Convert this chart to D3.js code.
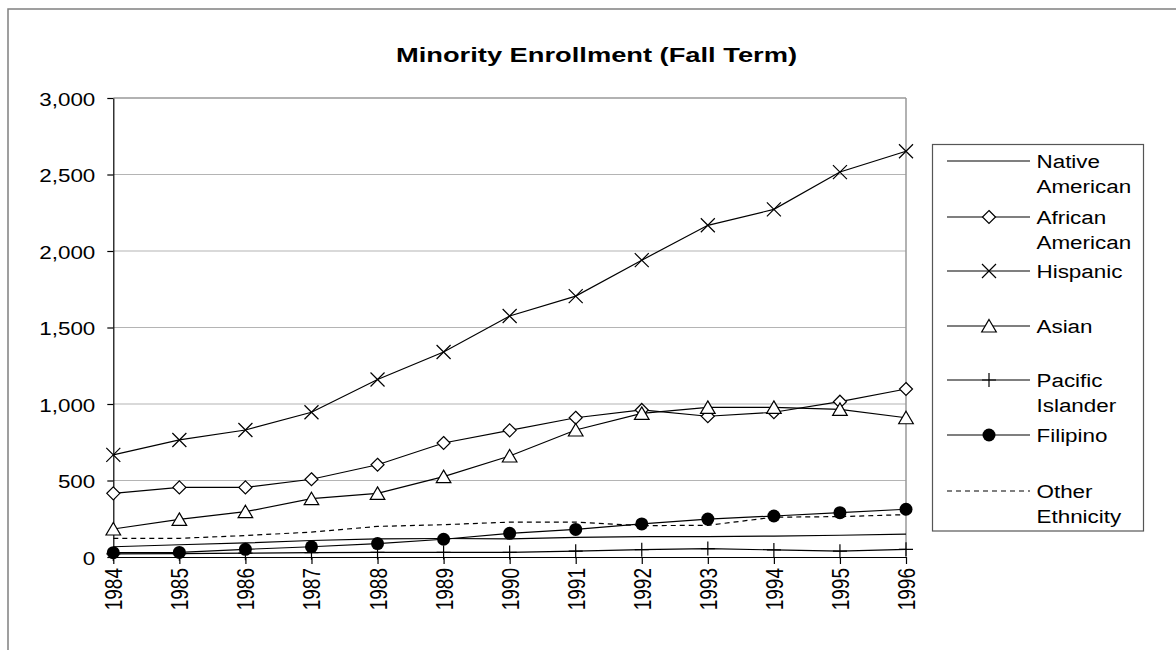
<!DOCTYPE html>
<html>
<head>
<meta charset="utf-8">
<script src="https://cdn.jsdelivr.net/npm/d3@7"></script>
<style>
  html, body { margin: 0; padding: 0; background: #fff; }
  svg { display: block; font-family: Arial, "Liberation Sans", sans-serif; }
</style>
</head>
<body>
<svg id="chart" width="1176" height="650"></svg>
<script>
const years = ["1984","1985","1986","1987","1988","1989","1990","1991","1992","1993","1994","1995","1996"];
const yTicks = [0, 500, 1000, 1500, 2000, 2500, 3000];
const seriesNames = ["Native American", "African American", "Hispanic", "Asian", "Pacific Islander", "Filipino", "Other Ethnicity"];
const legendLines = [["Native", "American"], ["African", "American"], ["Hispanic"], ["Asian"], ["Pacific", "Islander"], ["Filipino"], ["Other", "Ethnicity"]];

const nativeAmerican  = [67, 80, 92, 108, 118, 121, 118, 128, 133, 133, 137, 142, 150];
const africanAmerican = [416, 455, 455, 508, 603, 745, 828, 910, 961, 920, 946, 1015, 1098];
const hispanic        = [667, 765, 830, 946, 1160, 1340, 1575, 1705, 1940, 2168, 2272, 2516, 2652];
const asian           = [183, 246, 296, 381, 416, 525, 660, 830, 939, 978, 978, 965, 910];
const pacificIslander = [20, 22, 25, 28, 30, 30, 30, 38, 48, 55, 46, 38, 50];
const filipino        = [28, 30, 50, 67, 88, 116, 155, 180, 216, 248, 268, 290, 312];
const otherEthnicity  = [122, 122, 140, 163, 200, 211, 228, 228, 205, 207, 260, 264, 277];

const seriesValues = [nativeAmerican, africanAmerican, hispanic, asian, pacificIslander, filipino, otherEthnicity];
const seriesMarkers = ["none", "diamond", "x", "triangle", "plus", "circle", "none"];
const seriesDash = [null, null, null, null, null, null, "5,4"];

const svg = d3.select("#chart");
const SX = 1.18; // horizontal text stretch of the reference

// outer chart border
svg.append("rect").attr("x", 8).attr("y", 9).attr("width", 1300).attr("height", 800)
  .attr("fill", "none").attr("stroke", "#808080").attr("stroke-width", 1.5);

const x = d3.scalePoint().domain(years).range([113.3, 906]).padding(0);
const y = d3.scaleLinear().domain([0, 3000]).range([557, 98]);

// gridlines
svg.append("g").selectAll("line").data(yTicks.filter(d => d > 0)).join("line")
  .attr("x1", 113.3).attr("x2", 906)
  .attr("y1", d => y(d)).attr("y2", d => y(d))
  .attr("stroke", d => d === 3000 ? "#999" : "#b4b4b4").attr("stroke-width", d => d === 3000 ? 1.5 : 1.2);
// right plot border
svg.append("line").attr("x1", 906).attr("x2", 906).attr("y1", 98).attr("y2", 557)
  .attr("stroke", "#999").attr("stroke-width", 1.5);

// title
svg.append("text").attr("x", 596.5).attr("y", 62).attr("text-anchor", "middle")
  .attr("font-weight", "bold").attr("font-size", 21)
  .attr("textLength", 401).attr("lengthAdjust", "spacingAndGlyphs")
  .text("Minority Enrollment (Fall Term)");

// axes
const yAxis = svg.append("g").attr("transform", "translate(113.3,0)")
  .call(d3.axisLeft(y).tickValues(yTicks).tickFormat(d3.format(",")).tickSize(6).tickSizeOuter(0));
yAxis.select(".domain").attr("stroke", "#000").attr("stroke-width", 1.2);
yAxis.selectAll(".tick line").attr("stroke", "#000").attr("stroke-width", 1.2);
yAxis.selectAll(".tick text")
  .attr("x", null).attr("dy", null)
  .attr("font-size", 19).attr("fill", "#000").attr("font-family", "Arial, 'Liberation Sans', sans-serif")
  .attr("text-anchor", "end")
  .attr("transform", "translate(-18,7) scale(" + SX + ",1)");

const xAxis = svg.append("g").attr("transform", "translate(0,557)")
  .call(d3.axisBottom(x).tickSize(7).tickSizeOuter(0));
xAxis.select(".domain").attr("stroke", "#000").attr("stroke-width", 1.2);
xAxis.selectAll(".tick line").attr("stroke", "#000").attr("stroke-width", 1.2);
xAxis.selectAll(".tick text")
  .attr("y", null).attr("dy", "0.35em")
  .attr("font-size", 19).attr("fill", "#000").attr("font-family", "Arial, 'Liberation Sans', sans-serif")
  .attr("text-anchor", "end")
  .attr("transform", "translate(0,11) scale(1.28,1) rotate(-90)");

// markers
function markerPath(type) {
  switch (type) {
    case "diamond": return "M0,-6.5L6.5,0L0,6.5L-6.5,0Z";
    case "x": return "M-7,-7L7,7M-7,7L7,-7";
    case "triangle": return "M0,-6.5L7.3,6L-7.3,6Z";
    case "plus": return "M-7,0H7M0,-7V7";
    default: return null;
  }
}
function drawMarker(g, type, cx, cy) {
  if (type === "none") return;
  if (type === "circle") {
    g.append("circle").attr("cx", cx).attr("cy", cy).attr("r", 6.5).attr("fill", "#000");
    return;
  }
  const filled = (type === "diamond" || type === "triangle");
  g.append("path").attr("d", markerPath(type))
    .attr("transform", `translate(${cx},${cy})`)
    .attr("fill", filled ? "#fff" : "none")
    .attr("stroke", "#000").attr("stroke-width", 1.2);
}

const line = d3.line().x((d, i) => x(years[i])).y(d => y(d));
const plot = svg.append("g");
seriesValues.forEach((vals, si) => {
  const g = plot.append("g");
  g.append("path").attr("d", line(vals)).attr("fill", "none")
    .attr("stroke", "#000").attr("stroke-width", 1.2)
    .attr("stroke-dasharray", seriesDash[si]);
  vals.forEach((v, i) => drawMarker(g, seriesMarkers[si], x(years[i]), y(v)));
});

// legend
const legendY = [161, 217, 271, 326, 380, 435, 491];
const lg = svg.append("g");
lg.append("rect").attr("x", 932.5).attr("y", 144.5).attr("width", 211).attr("height", 386.5)
  .attr("fill", "#fff").attr("stroke", "#555").attr("stroke-width", 1.2);
seriesNames.forEach((name, si) => {
  const ly = legendY[si];
  lg.append("line").attr("x1", 947).attr("x2", 1030).attr("y1", ly).attr("y2", ly)
    .attr("stroke", "#000").attr("stroke-width", 1.2)
    .attr("stroke-dasharray", seriesDash[si]);
  drawMarker(lg, seriesMarkers[si], 989, ly);
  legendLines[si].forEach((t, k) => {
    lg.append("text").attr("font-size", 19)
      .attr("transform", `translate(1036.5,${ly + 7 + k * 25}) scale(${SX},1)`)
      .text(t);
  });
});
</script>
</body>
</html>
